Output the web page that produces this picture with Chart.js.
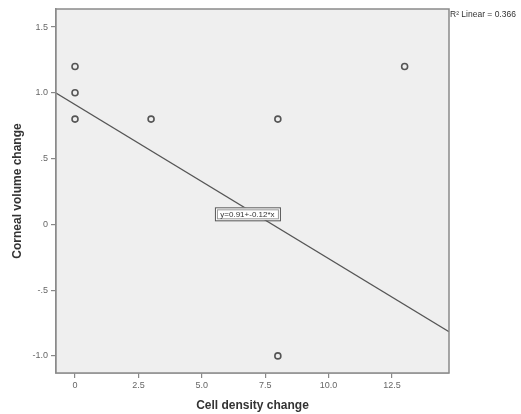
<!DOCTYPE html>
<html><head><meta charset="utf-8">
<script src="https://cdn.jsdelivr.net/npm/chart.js@4"></script>
<style>html,body{margin:0;padding:0;background:#fff;}#wrap{width:521px;height:414px;}</style>
</head><body><div id="wrap"><canvas id="c" width="521" height="414"></canvas></div>
<script>
const cellDensityChange = [0, 0, 0, 3, 8, 13, 8];
const cornealVolumeChange = [1.2, 1.0, 0.8, 0.8, 0.8, 1.2, -1.0];
const xTickValues = [0, 2.5, 5, 7.5, 10, 12.5];
const xTickLabels = ['0', '2.5', '5.0', '7.5', '10.0', '12.5'];
const yTickValues = [-1, -0.5, 0, 0.5, 1, 1.5];
const yTickLabels = ['-1.0', '-.5', '0', '.5', '1.0', '1.5'];
const fitIntercept = 0.91;
const fitSlope = -0.117;
const fitLabel = 'y=0.91+-0.12*x';
const r2Label = 'R\u00B2 Linear = 0.366';
const xRange = [-0.75, 14.75];
const yRange = [-1.13, 1.637];

const points = cellDensityChange.map((x, i) => ({x, y: cornealVolumeChange[i]}));
const fitLine = xRange.map(x => ({x, y: fitIntercept + fitSlope * x}));
const FONT = 'Liberation Sans, Arial, sans-serif';

const decor = {
  id: 'decor',
  beforeDatasetsDraw(chart) {
    const {ctx, chartArea: a} = chart;
    ctx.save();
    ctx.fillStyle = '#efefef';
    ctx.fillRect(a.left, a.top, a.right - a.left, a.bottom - a.top);
    ctx.restore();
  },
  afterDatasetsDraw(chart) {
    const {ctx, chartArea: a, scales} = chart;
    ctx.save();
    ctx.strokeStyle = '#8a8a8a';
    ctx.lineWidth = 1.5;
    ctx.strokeRect(a.left, a.top, a.right - a.left, a.bottom - a.top);
    // equation label
    const px = scales.x.getPixelForValue(6.8), py = scales.y.getPixelForValue(0.08);
    ctx.font = '8px ' + FONT;
    const w = 65, h = 13;
    ctx.fillStyle = '#ffffff';
    ctx.fillRect(px - w / 2, py - h / 2, w, h);
    ctx.strokeStyle = '#555';
    ctx.lineWidth = 1;
    ctx.strokeRect(px - w / 2 + 0.5, py - h / 2 + 0.5, w, h);
    ctx.strokeStyle = '#999';
    ctx.strokeRect(px - w / 2 + 2.5, py - h / 2 + 2.5, w - 4, h - 4);
    ctx.fillStyle = '#333';
    ctx.textAlign = 'center';
    ctx.textBaseline = 'middle';
    ctx.fillText(fitLabel, px, py + 1);
    // R2 label
    ctx.font = '8.5px ' + FONT;
    ctx.textAlign = 'left';
    ctx.fillStyle = '#333';
    ctx.fillText(r2Label, a.right + 1, a.top + 6);
    ctx.restore();
  }
};

new Chart(document.getElementById('c'), {
  type: 'scatter',
  data: {
    datasets: [
      {
        data: points,
        pointStyle: 'circle',
        pointRadius: 3,
        pointBorderWidth: 1.6,
        pointBorderColor: '#555',
        pointBackgroundColor: 'rgba(0,0,0,0)',
        showLine: false
      },
      {
        data: fitLine,
        showLine: true,
        borderColor: '#555',
        borderWidth: 1.3,
        pointRadius: 0,
        fill: false
      }
    ]
  },
  options: {
    responsive: false,
    animation: false,
    events: [],
    layout: {padding: {left: 0, top: 9, right: 72, bottom: 0}},
    plugins: {legend: {display: false}, tooltip: {enabled: false}},
    scales: {
      x: {
        type: 'linear',
        min: xRange[0], max: xRange[1],
        afterBuildTicks: s => { s.ticks = xTickValues.map(v => ({value: v})); },
        afterFit: s => { s.height = 41; },
        ticks: {
          autoSkip: false, maxRotation: 0, padding: 2,
          color: '#666', font: {family: FONT, size: 9},
          callback: (v) => xTickLabels[xTickValues.indexOf(v)]
        },
        grid: {display: true, drawOnChartArea: false, drawTicks: true, tickLength: 5, color: '#888', lineWidth: 1.2},
        border: {display: true, color: '#8a8a8a', width: 1.5},
        title: {display: true, text: 'Cell density change', color: '#333', font: {family: FONT, size: 12, weight: 'bold'}, padding: {top: 2, bottom: 1}}
      },
      y: {
        type: 'linear',
        min: yRange[0], max: yRange[1],
        afterBuildTicks: s => { s.ticks = yTickValues.map(v => ({value: v})); },
        afterFit: s => { s.width = 56; },
        ticks: {
          autoSkip: false, padding: 3,
          color: '#666', font: {family: FONT, size: 9},
          callback: (v) => yTickLabels[yTickValues.indexOf(v)]
        },
        grid: {display: true, drawOnChartArea: false, drawTicks: true, tickLength: 5, color: '#888', lineWidth: 1.2},
        border: {display: true, color: '#8a8a8a', width: 1.5},
        title: {display: true, text: 'Corneal volume change', color: '#333', font: {family: FONT, size: 12, weight: 'bold'}, padding: {top: 10, bottom: 2}}
      }
    }
  },
  plugins: [decor]
});
</script></body></html>
